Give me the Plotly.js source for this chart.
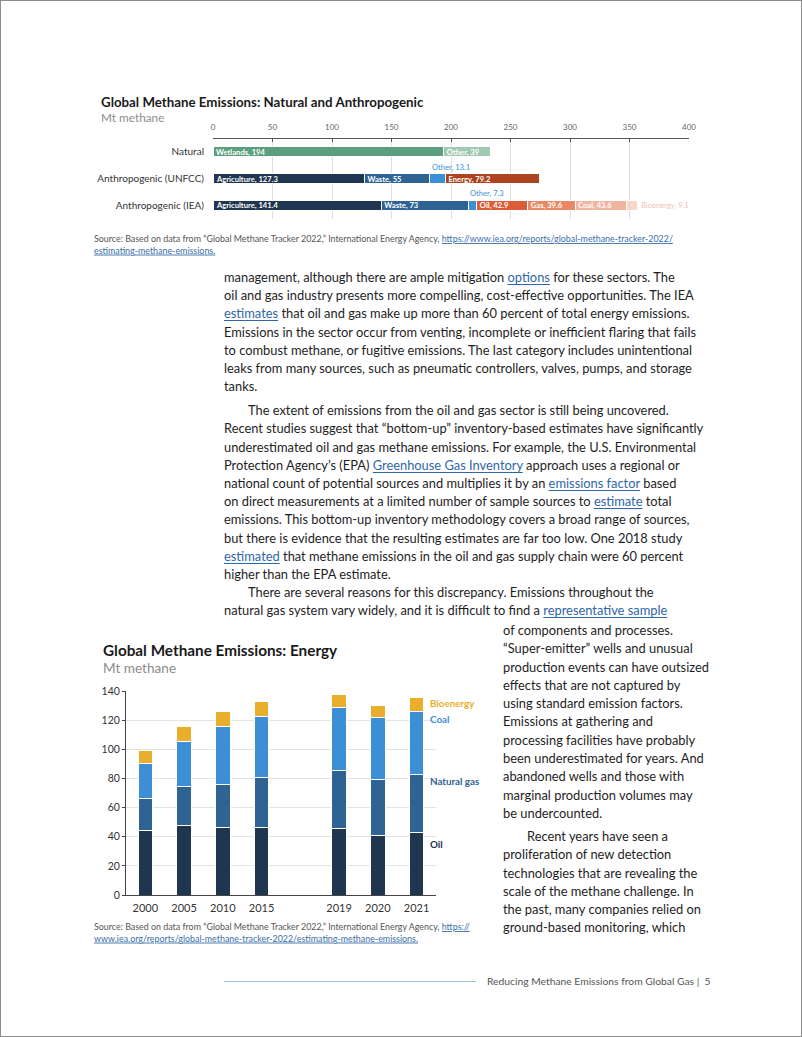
<!DOCTYPE html>
<html>
<head>
<meta charset="utf-8">
<script src="https://cdn.plot.ly/plotly-3.0.1.min.js"></script>
<style>
html,body{margin:0;padding:0;background:#fff;}
#page{position:relative;width:802px;height:1037px;overflow:hidden;background:#fff;}
#frame{position:absolute;left:0;top:0;width:802px;height:1037px;box-sizing:border-box;border:1px solid #8c8c8c;pointer-events:none;z-index:5}
#plot{position:absolute;left:0;top:0;width:802px;height:1037px;z-index:1}
.line{position:absolute;white-space:nowrap;font-family:Lato,sans-serif;color:#1e1e1e;height:18px;line-height:18px;z-index:3}
.line a{color:#2f66a8;text-decoration:underline;text-decoration-thickness:1px;text-underline-offset:2px}
#footrule{position:absolute;left:224px;top:981px;width:252px;height:1px;background:#9dbfe0;z-index:3}
#foot{position:absolute;left:487px;top:973px;font-family:Lato,sans-serif;font-size:10.3px;color:#555;line-height:16px;white-space:nowrap;z-index:3}
</style>
</head>
<body>
<div id="page">
  <div id="plot"></div>
  <div id="text"></div>
  <div id="footrule"></div>
  <div id="foot"></div>
  <div id="frame"></div>
</div>
<script>
// ---------- Chart 1 data: Natural and Anthropogenic ----------
const rowNames = ['Natural', 'Anthropogenic (UNFCC)', 'Anthropogenic (IEA)'];
const naturalSources = ['Wetlands', 'Other'];
const naturalValues = [194, 39];
const unfccSources = ['Agriculture', 'Waste', 'Other', 'Energy'];
const unfccValues = [127.3, 55, 13.1, 79.2];
const ieaSources = ['Agriculture', 'Waste', 'Other', 'Oil', 'Gas', 'Coal', 'Bioenergy'];
const ieaValues = [141.4, 73, 7.3, 42.9, 39.6, 43.6, 9.1];

// ---------- Chart 2 data: Energy ----------
const yearSlots = ['2000', '2005', '2010', '2015', ' ', '2019', '2020', '2021'];
const years = ['2000', '2005', '2010', '2015', '2019', '2020', '2021'];
const seriesNames = ['Oil', 'Natural gas', 'Coal', 'Bioenergy'];
const oilValues  = [44.0, 48.0, 46.4, 46.6, 45.9, 41.1, 42.9];
const gasValues  = [22.4, 26.5, 29.7, 33.9, 39.6, 38.4, 39.6];
const coalValues = [23.9, 31.1, 39.3, 42.3, 43.2, 42.0, 43.6];
const bioValues  = [9.0, 10.2, 10.4, 9.7, 8.6, 8.6, 9.1];

// ---------- Page text ----------
const sourceText = 'Source: Based on data from “Global Methane Tracker 2022,” International Energy Agency, ';
const sourceUrl = 'https://www.iea.org/reports/global-methane-tracker-2022/estimating-methane-emissions';
const footerText = 'Reducing Methane Emissions from Global Gas\u00a0|\u00a0 5';

const col1Paragraphs = [
  {indent:false, gap:0, lines:[
    'management, although there are ample mitigation [options] for these sectors. The',
    'oil and gas industry presents more compelling, cost-effective opportunities. The IEA',
    '[estimates] that oil and gas make up more than 60 percent of total energy emissions.',
    'Emissions in the sector occur from venting, incomplete or inefficient flaring that fails',
    'to combust methane, or fugitive emissions. The last category includes unintentional',
    'leaks from many sources, such as pneumatic controllers, valves, pumps, and storage',
    'tanks.'
  ]},
  {indent:true, gap:6, lines:[
    'The extent of emissions from the oil and gas sector is still being uncovered.',
    'Recent studies suggest that “bottom-up” inventory-based estimates have significantly',
    'underestimated oil and gas methane emissions. For example, the U.S. Environmental',
    'Protection Agency’s (EPA) [Greenhouse Gas Inventory] approach uses a regional or',
    'national count of potential sources and multiplies it by an [emissions factor] based',
    'on direct measurements at a limited number of sample sources to [estimate] total',
    'emissions. This bottom-up inventory methodology covers a broad range of sources,',
    'but there is evidence that the resulting estimates are far too low. One 2018 study',
    '[estimated] that methane emissions in the oil and gas supply chain were 60 percent',
    'higher than the EPA estimate.'
  ]},
  {indent:true, gap:0, lines:[
    'There are several reasons for this discrepancy. Emissions throughout the',
    'natural gas system vary widely, and it is difficult to find a [representative sample]'
  ]}
];
const col2Paragraphs = [
  {indent:false, gap:0, lines:[
    'of components and processes.',
    '“Super-emitter” wells and unusual',
    'production events can have outsized',
    'effects that are not captured by',
    'using standard emission factors.',
    'Emissions at gathering and',
    'processing facilities have probably',
    'been underestimated for years. And',
    'abandoned wells and those with',
    'marginal production volumes may',
    'be undercounted.'
  ]},
  {indent:true, gap:5, lines:[
    'Recent years have seen a',
    'proliferation of new detection',
    'technologies that are revealing the',
    'scale of the methane challenge. In',
    'the past, many companies relied on',
    'ground-based monitoring, which'
  ]}
];

// ---------- helpers ----------
const W = 802, H = 1037;
const pxX = x => x / W;
const pxY = y => 1 - y / H;
const FONT = 'Lato, sans-serif';

// ---------- styles ----------
const rowColors = [
  ['#5b9f7e', '#a0c8b2'],
  ['#1f3550', '#2f6394', '#3c8fd4', '#ad4420'],
  ['#1f3550', '#2f6394', '#3c8fd4', '#dd5c38', '#e98867', '#f0b4a1', '#f7d7cc']
];
const energyColors = ['#1f3550', '#2f6394', '#3c8fd4', '#e9ae2b'];

const traces = [];
const annotations = [];

// Chart 1 traces
const rows = [[naturalSources, naturalValues], [unfccSources, unfccValues], [ieaSources, ieaValues]];
rows.forEach(([labs, vals], r) => {
  let cum = 0;
  labs.forEach((lab, i) => {
    const v = vals[i];
    const txt = lab + ', ' + v;
    const small = v < 15;
    traces.push({
      type: 'bar', orientation: 'h', xaxis: 'x', yaxis: 'y',
      y: [rowNames[r]], x: [v], width: 0.37,
      marker: {color: rowColors[r][i], line: {color: '#ffffff', width: 1}},
      text: [small ? '' : '<b>' + txt + '</b>'],
      textposition: small ? 'none' : 'inside',
      insidetextanchor: 'start', textangle: 0, constraintext: 'none',
      textfont: {color: '#ffffff', size: 7.6, family: FONT},
      hoverinfo: 'skip', showlegend: false
    });
    if (small) {
      const last = i === labs.length - 1;
      if (last) {
        annotations.push({xref: 'x', yref: 'y', x: cum + v, y: rowNames[r], text: txt,
          xanchor: 'left', yanchor: 'middle', xshift: 1, showarrow: false,
          font: {size: 7.6, color: '#efc2b3', family: FONT}});
      } else {
        annotations.push({xref: 'x', yref: 'y', x: cum, y: rowNames[r], text: txt,
          xanchor: 'left', yanchor: 'bottom', yshift: 5, showarrow: false,
          font: {size: 7.6, color: '#3c8fd4', family: FONT}});
      }
    }
    cum += v;
  });
});

// Chart 2 traces
[oilValues, gasValues, coalValues, bioValues].forEach((vals, i) => {
  traces.push({
    type: 'bar', xaxis: 'x2', yaxis: 'y2', x: years, y: vals, name: seriesNames[i],
    width: 0.38, marker: {color: energyColors[i], line: {color: '#ffffff', width: 1}},
    hoverinfo: 'skip', showlegend: false
  });
});

// Chart 2 direct labels (legend)
const legendY = [844, 781, 719, 703];
seriesNames.forEach((n, i) => {
  annotations.push({xref: 'paper', yref: 'paper', x: pxX(428), y: pxY(legendY[i]), text: '<b>' + n + '</b>',
    xanchor: 'left', yanchor: 'middle', showarrow: false, font: {size: 9.8, color: energyColors[i], family: FONT}});
});

// Titles / subtitles
annotations.push(
  {xref: 'paper', yref: 'paper', x: pxX(99), y: pxY(102), text: '<b>Global Methane Emissions: Natural and Anthropogenic</b>',
   xanchor: 'left', yanchor: 'middle', showarrow: false, font: {size: 13.3, color: '#1a1a1a', family: FONT}},
  {xref: 'paper', yref: 'paper', x: pxX(99), y: pxY(118), text: 'Mt methane',
   xanchor: 'left', yanchor: 'middle', showarrow: false, font: {size: 11.8, color: '#8c8c8c', family: FONT}},
  {xref: 'paper', yref: 'paper', x: pxX(101), y: pxY(650), text: '<b>Global Methane Emissions: Energy</b>',
   xanchor: 'left', yanchor: 'middle', showarrow: false, font: {size: 15.3, color: '#1a1a1a', family: FONT}},
  {xref: 'paper', yref: 'paper', x: pxX(101), y: pxY(668), text: 'Mt methane',
   xanchor: 'left', yanchor: 'middle', showarrow: false, font: {size: 13.6, color: '#8c8c8c', family: FONT}}
);

// Sources
const linkStyle = 'color:#3a6ea8;text-decoration:underline';
const urlParts1 = ['https://www.iea.org/reports/global-methane-tracker-2022/', 'estimating-methane-emissions.'];
const urlParts2 = ['https://', 'www.iea.org/reports/global-methane-tracker-2022/estimating-methane-emissions.'];
function srcText(parts) {
  return sourceText + '<a href="' + sourceUrl + '"><span style="' + linkStyle + '">' + parts[0] + '</span></a><br>' +
    '<a href="' + sourceUrl + '"><span style="' + linkStyle + '">' + parts[1] + '</span></a>';
}
annotations.push(
  {xref: 'paper', yref: 'paper', x: pxX(92), y: pxY(231), text: srcText(urlParts1), align: 'left',
   xanchor: 'left', yanchor: 'top', showarrow: false, font: {size: 8.9, color: '#555555', family: FONT}},
  {xref: 'paper', yref: 'paper', x: pxX(92), y: pxY(919), text: srcText(urlParts2), align: 'left',
   xanchor: 'left', yanchor: 'top', showarrow: false, font: {size: 8.9, color: '#555555', family: FONT}}
);

const layout = {
  width: W, height: H, margin: {l: 0, r: 0, t: 0, b: 0},
  paper_bgcolor: 'rgba(0,0,0,0)', plot_bgcolor: 'rgba(0,0,0,0)',
  font: {family: FONT, color: '#333'},
  barmode: 'stack', hovermode: false, showlegend: false,
  xaxis: {domain: [pxX(213), pxX(689)], anchor: 'y', side: 'top', range: [0, 400], dtick: 50, tick0: 0,
    showline: true, linecolor: '#555', linewidth: 1, ticks: 'inside', ticklen: 3, tickcolor: '#555',
    showgrid: true, gridcolor: '#dedede', gridwidth: 1, zeroline: false,
    tickfont: {size: 8, color: '#666'}, ticklabelstandoff: 4, fixedrange: true},
  yaxis: {domain: [pxY(218.5), pxY(138.5)], anchor: 'x', type: 'category', categoryorder: 'array', categoryarray: rowNames,
    range: [2.5, -0.5], showline: false, showgrid: false, zeroline: false, ticks: '',
    tickfont: {size: 10, color: '#333'}, ticklabelstandoff: 8, fixedrange: true},
  xaxis2: {domain: [pxX(126), pxX(436)], anchor: 'y2', type: 'category', categoryorder: 'array', categoryarray: yearSlots,
    range: [-0.5, 7.5], showline: true, linecolor: '#444', linewidth: 1, ticks: '', showgrid: false, zeroline: false,
    tickfont: {size: 11, color: '#333'}, ticklabelstandoff: 3, fixedrange: true},
  yaxis2: {domain: [pxY(895), pxY(691)], anchor: 'x2', range: [0, 140], dtick: 20, tick0: 0,
    showline: true, linecolor: '#444', linewidth: 1, ticks: 'outside', ticklen: 3, tickcolor: '#444',
    showgrid: true, gridcolor: '#e3e3e3', zeroline: false, tickfont: {size: 10.5, color: '#333'}, fixedrange: true},
  annotations: annotations
};

Plotly.newPlot('plot', traces, layout, {displayModeBar: false, staticPlot: true});

// ---------- body text ----------
document.getElementById('foot').textContent = footerText;
function renderLine(s) {
  return s.replace(/\[([^\]]+)\]/g, '<a href="#">$1</a>');
}
const textBox = document.getElementById('text');
const probe = document.createElement('span');
probe.style.cssText = 'position:absolute;visibility:hidden;white-space:nowrap;font:13px Lato,sans-serif';
probe.textContent = col1Paragraphs[0].lines[0].replace(/[\[\]]/g, '');
document.body.appendChild(probe);
const bodySize = 13 * 451 / probe.getBoundingClientRect().width;
probe.remove();

function placeColumn(paras, x0, y0, pitch) {
  let y = y0;
  let first = true;
  paras.forEach(p => {
    if (!first) y += p.gap;
    p.lines.forEach((ln, i) => {
      const d = document.createElement('div');
      d.className = 'line';
      d.style.left = (x0 + (p.indent && i === 0 ? 24 : 0)) + 'px';
      d.style.top = (y - 11) + 'px';
      d.style.fontSize = bodySize + 'px';
      d.innerHTML = renderLine(ln);
      textBox.appendChild(d);
      y += pitch;
    });
    first = false;
  });
}
placeColumn(col1Paragraphs, 224, 279, 18.18);
placeColumn(col2Paragraphs, 503, 632, 18.28);
</script>
</body>
</html>
